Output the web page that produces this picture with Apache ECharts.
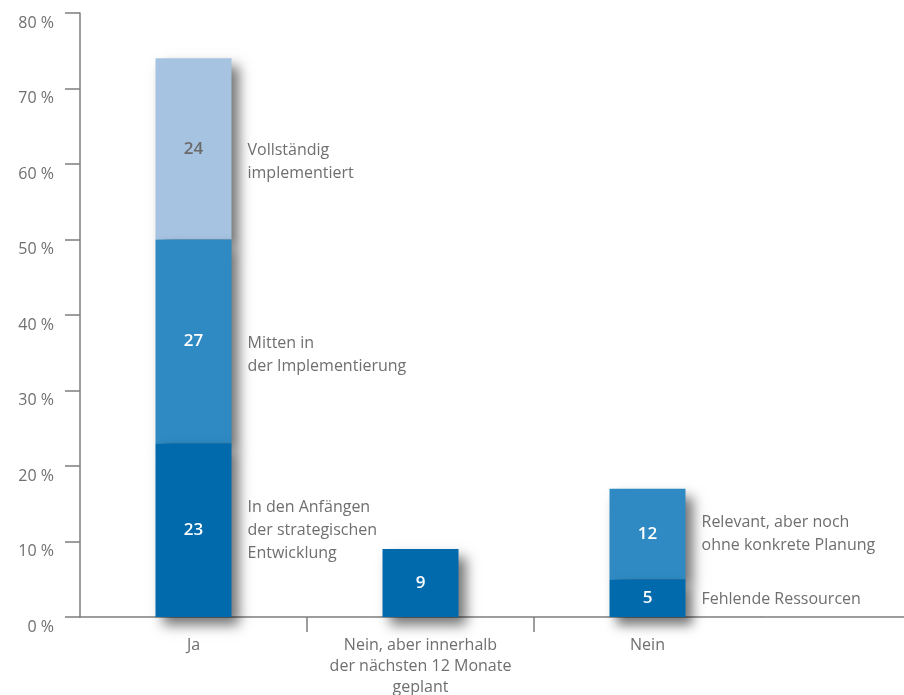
<!DOCTYPE html>
<html>
<head>
<meta charset="utf-8">
<script src="https://cdn.jsdelivr.net/npm/echarts@6/dist/echarts.min.js"></script>
<style>
html,body{margin:0;padding:0;background:#fff;}
#chart{width:904px;height:695px;}
</style>
</head>
<body>
<div id="chart"></div>
<script>
// ---- data ----
const categories = ['Ja', 'Nein, aber innerhalb\nder nächsten 12 Monate\ngeplant', 'Nein'];
const bottomValues = [23, 9, 5];
const middleValues = [27, null, 12];
const topValues = [24, null, null];
const bottomNotes = ['In den Anfängen\nder strategischen\nEntwicklung', '', 'Fehlende Ressourcen'];
const middleNotes = ['Mitten in\nder Implementierung', '', 'Relevant, aber noch\nohne konkrete Planung'];
const topNotes = ['Vollständig\nimplementiert', '', ''];
const yTicks = [0, 10, 20, 30, 40, 50, 60, 70, 80];

// ---- styling ----
const FONT = '"Open Sans", "Noto Sans", sans-serif';
const GRAY = '#6f6f6f';
const AXIS = '#7d7d7d';
const colDark = '#006aad';
const colMid = '#2f8ac3';
const colLight = '#a6c3e1';
const shadow = {shadowColor: 'rgba(0,0,0,0.55)', shadowBlur: 12, shadowOffsetX: 7, shadowOffsetY: 8};

function barSeries(name, values, color, labelColor, z) {
  return {
    name, type: 'bar', stack: 'main', data: values, barWidth: 76, barGap: '-100%', z,
    itemStyle: Object.assign({color}, shadow),
    label: {show: true, position: 'inside', color: labelColor, fontFamily: FONT, fontSize: 17, fontWeight: 600,
      formatter: p => p.value == null ? '' : String(p.value)}
  };
}
function noteSeries(values, notes, offsets) {
  return {
    type: 'bar', stack: 'notes', barWidth: 76, barGap: '-100%', z: 1, silent: true,
    itemStyle: {color: 'rgba(0,0,0,0)'},
    data: values.map((v, i) => ({
      value: v,
      label: {show: !!notes[i], offset: [0, offsets[i]]}
    })),
    label: {show: true, position: 'right', distance: 16, color: GRAY, fontFamily: FONT, fontSize: 16, lineHeight: 23,
      formatter: p => notes[p.dataIndex]}
  };
}

const chart = echarts.init(document.getElementById('chart'), null, {renderer: 'canvas'});
chart.setOption({
  animation: false,
  backgroundColor: '#fff',
  grid: {left: 80, top: 13, width: 681, bottom: 78, containLabel: false, outerBoundsMode: 'none'},
  xAxis: [{
    type: 'category', data: categories, boundaryGap: true,
    axisLine: {lineStyle: {color: AXIS, width: 1.5}},
    axisTick: {show: false},
    axisLabel: {color: GRAY, fontFamily: FONT, fontSize: 16, lineHeight: 21, margin: 18, interval: 0}
  }, {
    // helper axis: only the separator ticks between the categories
    type: 'value', position: 'bottom', min: 0, max: categories.length,
    axisLine: {show: false},
    axisTick: {show: true, length: 15, lineStyle: {color: AXIS, width: 1.5}, customValues: [1, 2]},
    axisLabel: {show: false},
    splitLine: {show: false}
  }],
  yAxis: {
    type: 'value', min: 0, max: 80, interval: 10,
    splitLine: {show: false},
    axisLine: {show: true, lineStyle: {color: AXIS, width: 1.5}},
    axisTick: {show: true, inside: false, length: 15, lineStyle: {color: AXIS, width: 1.5}},
    axisLabel: {color: GRAY, fontFamily: FONT, fontSize: 16, margin: 26, verticalAlign: 'top',
      padding: [2, 0, 0, 0],
      formatter: v => yTicks.includes(v) ? v + ' %' : ''}
  },
  series: [
    barSeries('bottom', bottomValues, colDark, '#ffffff', 5),
    barSeries('middle', middleValues, colMid, '#ffffff', 4),
    barSeries('top', topValues, colLight, '#6a6a6a', 3),
    noteSeries(bottomValues, bottomNotes, [0, 0, 1]),
    noteSeries(middleValues, middleNotes, [14, 0, 0]),
    noteSeries(topValues, topNotes, [13, 0, 0])
  ]
});

// extend the x baseline to the right page edge, as in the reference
const y0 = chart.convertToPixel({yAxisIndex: 0}, 0);
const xEnd = chart.convertToPixel({xAxisIndex: 1}, categories.length);
chart.setOption({
  graphic: [{type: 'line', shape: {x1: xEnd, y1: y0, x2: 904, y2: y0}, style: {stroke: AXIS, lineWidth: 1.5}, z: 0}]
});
</script>
</body>
</html>
